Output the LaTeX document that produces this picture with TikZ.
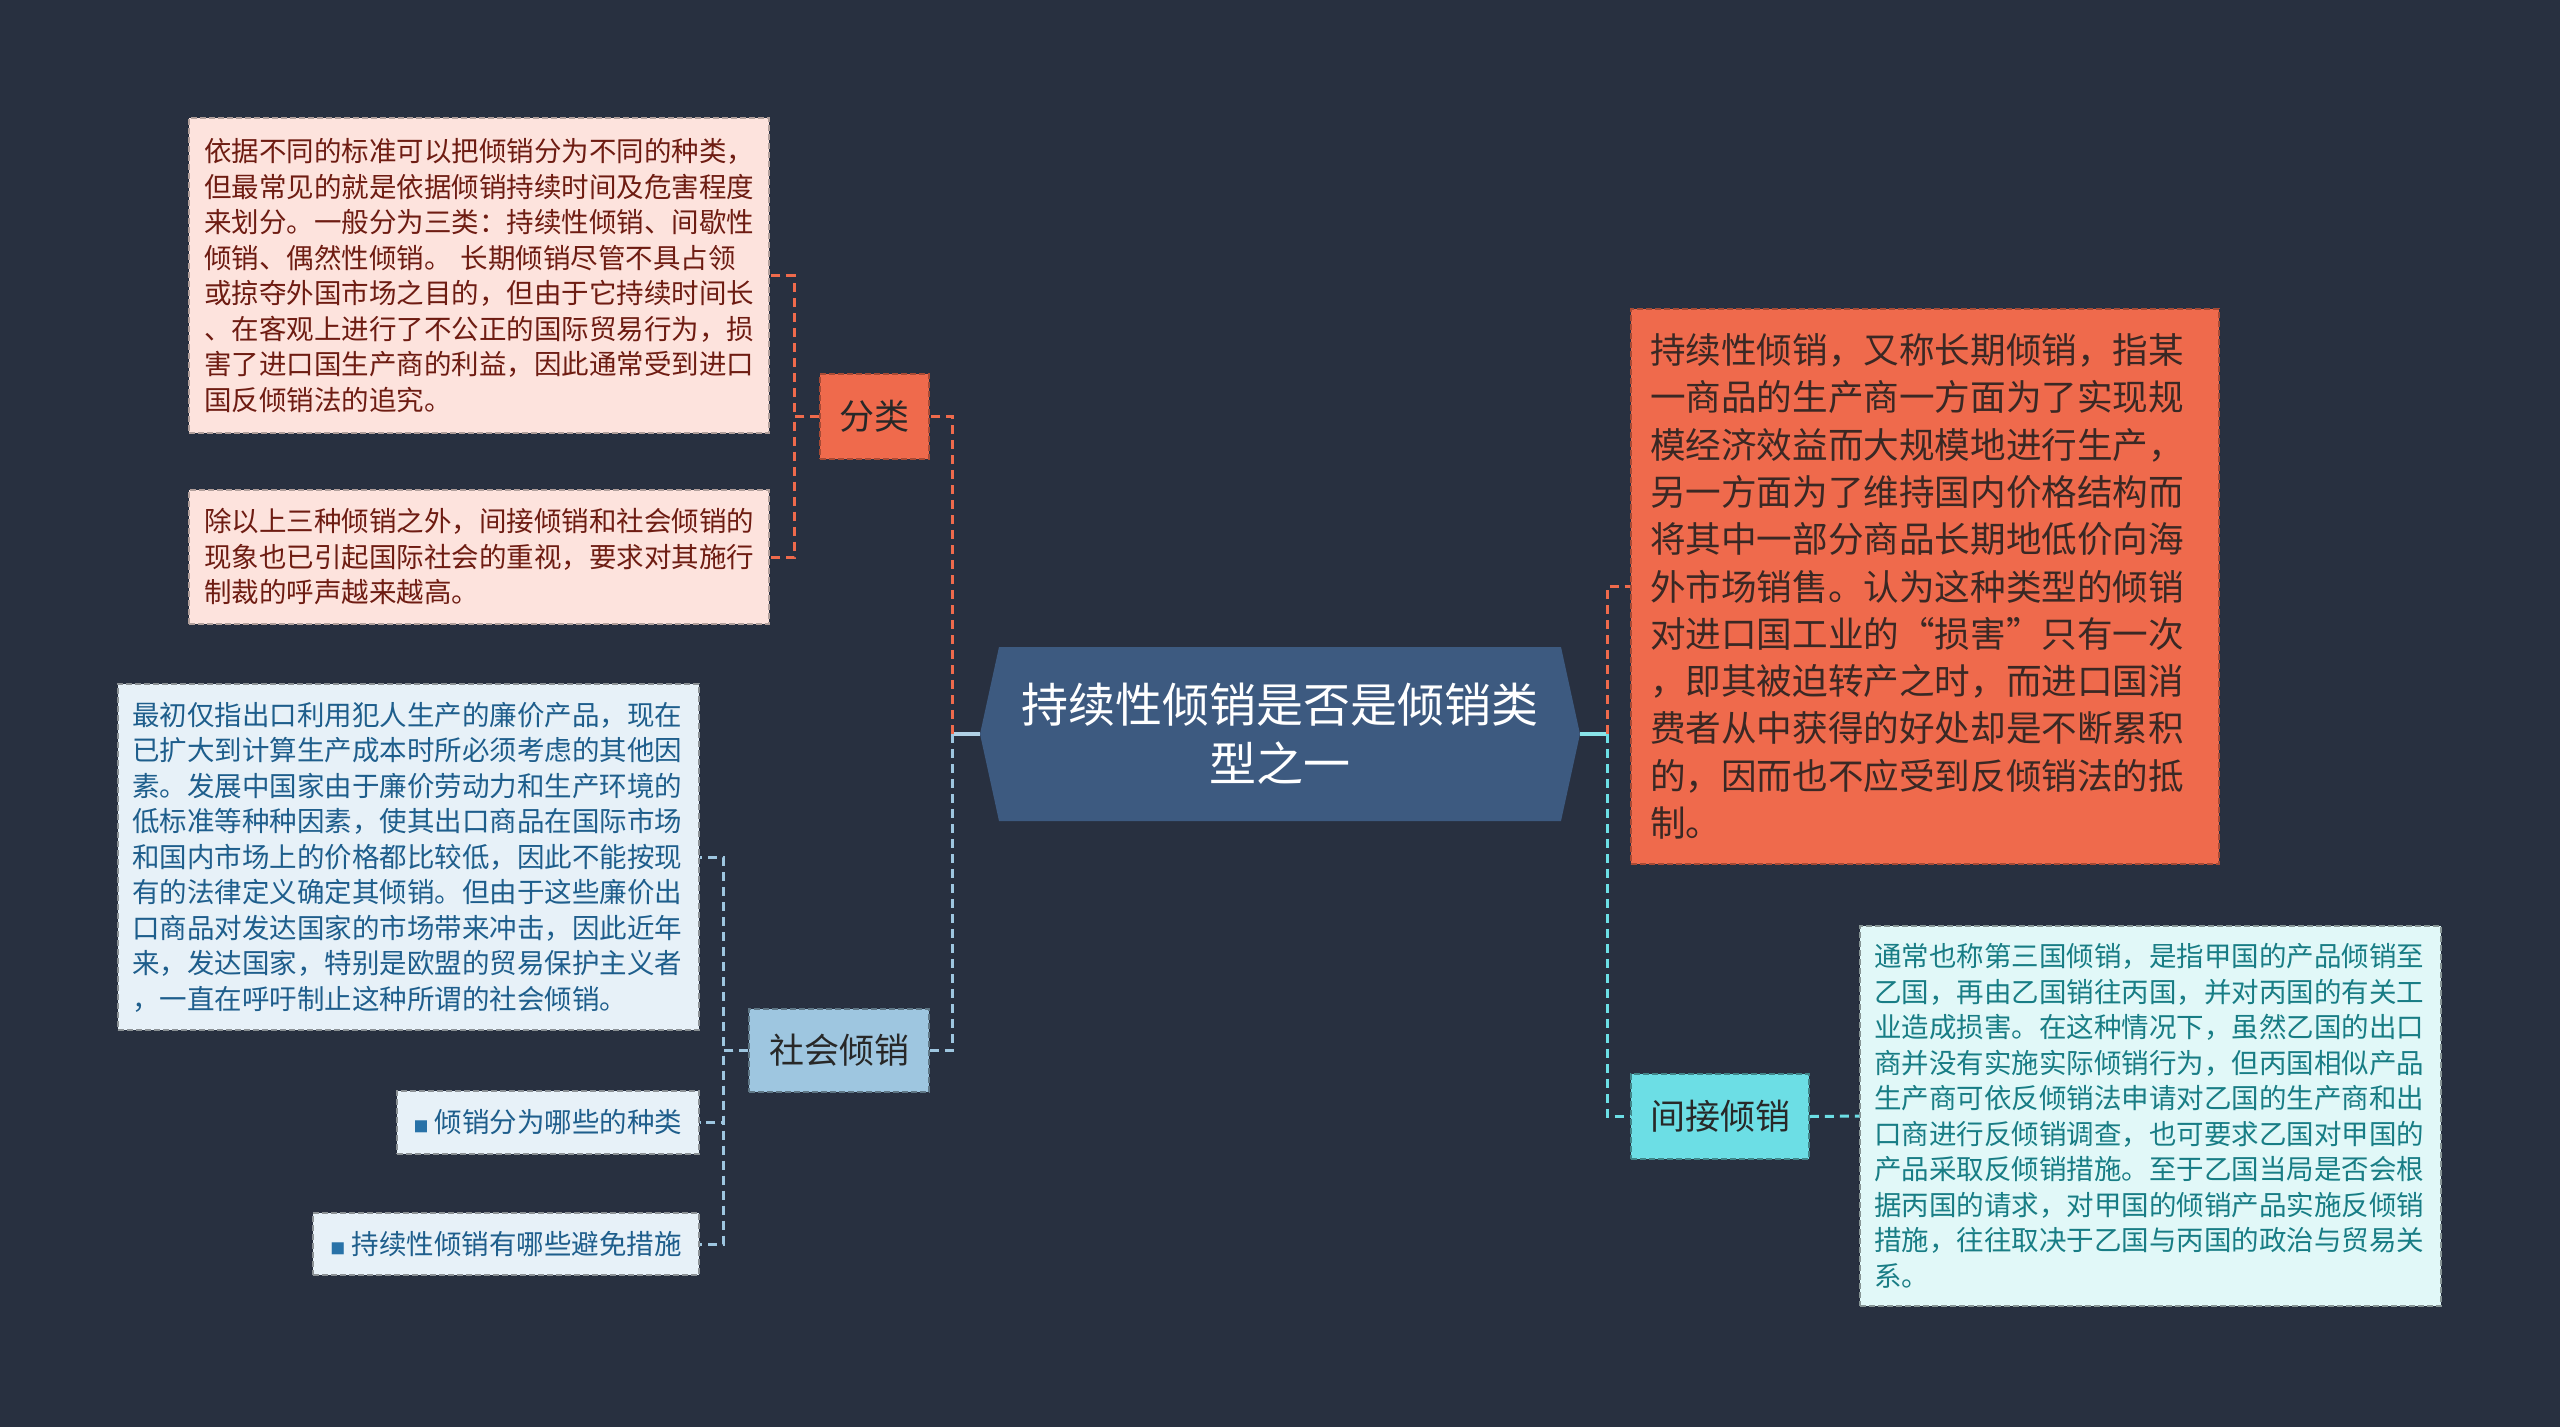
\documentclass[tikz,border=0pt]{standalone}
\usepackage{fontspec}
\newfontfamily\cjk{Noto Sans CJK SC}

\definecolor{bgnavy}{RGB}{40,48,64}
\definecolor{mainfill}{RGB}{61,90,128}
\definecolor{orangefill}{RGB}{239,106,76}
\definecolor{orangetext}{RGB}{58,40,36}
\definecolor{pinkfill}{RGB}{253,227,221}
\definecolor{pinktext}{RGB}{110,28,18}
\definecolor{skyfill}{RGB}{158,198,224}
\definecolor{paleblue}{RGB}{231,241,248}
\definecolor{bluetext}{RGB}{30,94,140}
\definecolor{bulletblue}{RGB}{40,114,168}
\definecolor{cyanfill}{RGB}{108,222,229}
\definecolor{palecyan}{RGB}{225,248,248}
\definecolor{tealtext}{RGB}{24,125,133}
\definecolor{darktext}{RGB}{40,40,40}

\begin{document}
\begin{tikzpicture}[x=1pt,y=-1pt,
        box/.style={rectangle, dash pattern=on 6pt off 3pt, line width=1.5pt, align=left,
            inner ysep=0pt, font=\cjk\fontsize{27.5}{35.5}\selectfont},
        tag/.style={rectangle, dash pattern=on 6pt off 3pt, line width=1.5pt, align=center,
            inner sep=0pt, text=darktext, font=\cjk\fontsize{35}{40}\selectfont},
        link/.style={line width=3pt, dash pattern=on 9pt off 6pt},
        stem/.style={line width=4pt, skyfill!80!white}]

        % === BACKGROUND ===
        \useasboundingbox (0,0) rectangle (2560,1427);
        \fill[bgnavy] (0,0) rectangle (2560,1427);

        % === CENTRE ===
        \fill[mainfill] (980,734) -- (999,647) -- (1561,647) -- (1580,734)
            -- (1561,821) -- (999,821) -- cycle;
        \node[minimum width=600, minimum height=174, align=center, text=white,
            font=\cjk\fontsize{47}{59}\selectfont] (main) at (1280,734)
            {持续性倾销是否是倾销类\\型之一};
        \coordinate (trunkL) at (952,734);
        \coordinate (trunkR) at (1607,734);

        % === LEFT: FENLEI ===
        \node[tag, fill=orangefill, draw=orangefill!70!black,
            minimum width=109, minimum height=85] (fenlei) at (874.5,416.5) {分类};
        \node[box, fill=pinkfill, draw=pinkfill!70!black, text=pinktext,
            text width=550, inner xsep=15, minimum height=315] (fenleiA) at (479,275.5)
            {依据不同的标准可以把倾销分为不同的种类，\\
             但最常见的就是依据倾销持续时间及危害程度\\
             来划分。一般分为三类：持续性倾销、间歇性\\
             倾销、偶然性倾销。 长期倾销尽管不具占领\\
             或掠夺外国市场之目的，但由于它持续时间长\\
             、在客观上进行了不公正的国际贸易行为，损\\
             害了进口国生产商的利益，因此通常受到进口\\
             国反倾销法的追究。};
        \node[box, fill=pinkfill, draw=pinkfill!70!black, text=pinktext,
            text width=550, inner xsep=15, minimum height=134] (fenleiB) at (479,557)
            {除以上三种倾销之外，间接倾销和社会倾销的\\
             现象也已引起国际社会的重视，要求对其施行\\
             制裁的呼声越来越高。};

        % === LEFT: SHEHUI ===
        \node[tag, fill=skyfill, draw=skyfill!60!black,
            minimum width=180, minimum height=83] (shehui) at (839,1050.5) {社会倾销};
        \node[box, fill=paleblue, draw=paleblue!60!black, text=bluetext,
            text width=553, inner xsep=14, minimum height=346] (shehuiA) at (408.5,857)
            {最初仅指出口利用犯人生产的廉价产品，现在\\
             已扩大到计算生产成本时所必须考虑的其他因\\
             素。发展中国家由于廉价劳动力和生产环境的\\
             低标准等种种因素，使其出口商品在国际市场\\
             和国内市场上的价格都比较低，因此不能按现\\
             有的法律定义确定其倾销。但由于这些廉价出\\
             口商品对发达国家的市场带来冲击，因此近年\\
             来，发达国家，特别是欧盟的贸易保护主义者\\
             ，一直在呼吁制止这种所谓的社会倾销。};
        \node[box, fill=paleblue, draw=paleblue!60!black, text=bluetext, align=right,
            minimum width=302, minimum height=63, inner xsep=8] (shehuiB) at (548,1122.5)
            {{\color{bulletblue}\fontsize{15}{15}\selectfont ■}\ 倾销分为哪些的种类};
        \node[box, fill=paleblue, draw=paleblue!60!black, text=bluetext, align=right,
            minimum width=386, minimum height=62, inner xsep=8] (shehuiC) at (506,1244)
            {{\color{bulletblue}\fontsize{15}{15}\selectfont ■}\ 持续性倾销有哪些避免措施};

        % === RIGHT ===
        \node[box, fill=orangefill, draw=orangefill!70!black, text=orangetext,
            font=\cjk\fontsize{35.6}{47.3}\selectfont,
            text width=550, inner xsep=19, minimum height=555] (chixu) at (1925,586.5)
            {持续性倾销，又称长期倾销，指某\\
             一商品的生产商一方面为了实现规\\
             模经济效益而大规模地进行生产，\\
             另一方面为了维持国内价格结构而\\
             将其中一部分商品长期地低价向海\\
             外市场销售。认为这种类型的倾销\\
             对进口国工业的“损害”只有一次\\
             ，即其被迫转产之时，而进口国消\\
             费者从中获得的好处却是不断累积\\
             的，因而也不应受到反倾销法的抵\\
             制。};
        \node[tag, fill=cyanfill, draw=cyanfill!60!black,
            minimum width=178, minimum height=85] (jianjie) at (1720,1116.5) {间接倾销};
        \node[box, fill=palecyan, draw=palecyan!60!black, text=tealtext,
            text width=553, inner xsep=14, minimum height=380] (jianjieA) at (2150.5,1116)
            {通常也称第三国倾销，是指甲国的产品倾销至\\
             乙国，再由乙国销往丙国，并对丙国的有关工\\
             业造成损害。在这种情况下，虽然乙国的出口\\
             商并没有实施实际倾销行为，但丙国相似产品\\
             生产商可依反倾销法申请对乙国的生产商和出\\
             口商进行反倾销调查，也可要求乙国对甲国的\\
             产品采取反倾销措施。至于乙国当局是否会根\\
             据丙国的请求，对甲国的倾销产品实施反倾销\\
             措施，往往取决于乙国与丙国的政治与贸易关\\
             系。};

        % === CONNECTORS ===
        \draw[stem] (main.west) -- (trunkL);
        \draw[stem, cyanfill!80!white] (main.east) -- (trunkR);
        \draw[link, orangefill] (trunkL) |- (fenlei.east);
        \draw[link, skyfill] (trunkL) |- (shehui.east);
        \draw[link, orangefill] (trunkR) |- (chixu.west);
        \draw[link, cyanfill] (trunkR) |- (jianjie.west);
        \draw[link, cyanfill] (jianjie.east) -- (jianjieA.west);

        \draw[link, orangefill] (fenlei.west) -- ++(-25,0) |- (fenleiA.east);
        \draw[link, orangefill] (fenlei.west) -- ++(-25,0) |- (fenleiB.east);
        \draw[link, skyfill] (shehui.west) -- ++(-25,0) |- (shehuiA.east);
        \draw[link, skyfill] (shehui.west) -- ++(-25,0) |- (shehuiB.east);
        \draw[link, skyfill] (shehui.west) -- ++(-25,0) |- (shehuiC.east);

    \end{tikzpicture}
\end{document}
